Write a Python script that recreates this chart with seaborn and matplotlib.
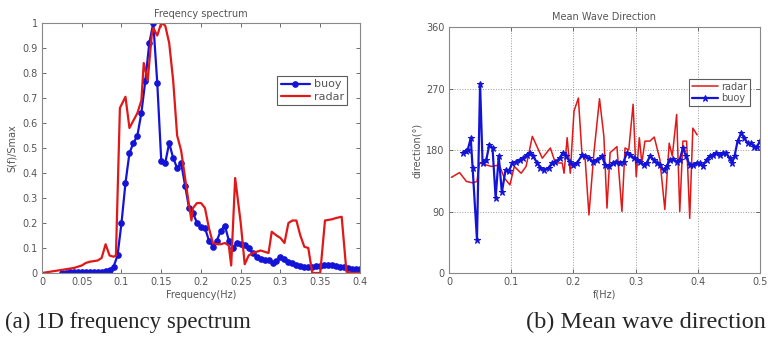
import numpy as np
import pandas as pd
import matplotlib
matplotlib.use('Agg')
import matplotlib.pyplot as plt
import seaborn as sns

# ---- data ----
# (a) normalised frequency spectrum
buoy_f = [0.025, 0.03, 0.035, 0.04, 0.045, 0.05, 0.055, 0.06, 0.065, 0.07, 0.075, 0.08,
          0.085, 0.09, 0.095, 0.1, 0.105, 0.11, 0.115, 0.12, 0.125, 0.13, 0.135, 0.14,
          0.145, 0.15, 0.155, 0.16, 0.165, 0.17, 0.175, 0.18, 0.185, 0.19, 0.195, 0.2,
          0.205, 0.21, 0.215, 0.22, 0.225, 0.23, 0.235, 0.24, 0.245, 0.25, 0.255, 0.26,
          0.265, 0.27, 0.275, 0.28, 0.285, 0.29, 0.295, 0.3, 0.305, 0.31, 0.315, 0.32,
          0.325, 0.33, 0.335, 0.34, 0.345, 0.35, 0.355, 0.36, 0.365, 0.37, 0.375, 0.38,
          0.385, 0.39, 0.395, 0.4]
buoy_s = [0.0, 0.0, 0.003, 0.003, 0.005, 0.003, 0.003, 0.005, 0.003, 0.005, 0.005, 0.007,
          0.01, 0.025, 0.07, 0.2, 0.36, 0.48, 0.52, 0.55, 0.64, 0.77, 0.92, 1.0,
          0.76, 0.45, 0.44, 0.52, 0.46, 0.42, 0.44, 0.35, 0.26, 0.24, 0.2, 0.185,
          0.18, 0.13, 0.105, 0.13, 0.17, 0.19, 0.13, 0.1, 0.12, 0.115, 0.11, 0.1,
          0.08, 0.065, 0.055, 0.05, 0.05, 0.04, 0.048, 0.065, 0.055, 0.045, 0.038, 0.03,
          0.028, 0.025, 0.025, 0.025, 0.028, 0.028, 0.03, 0.033, 0.03, 0.028, 0.025, 0.022,
          0.018, 0.015, 0.015, 0.015]

radar_f = [0.0, 0.01, 0.02, 0.03, 0.04, 0.05, 0.055, 0.06, 0.07, 0.075, 0.08, 0.085,
           0.09, 0.093, 0.098, 0.105, 0.11, 0.12, 0.125, 0.128, 0.133, 0.138, 0.14,
           0.145, 0.15, 0.155, 0.16, 0.165, 0.17, 0.175, 0.18, 0.185, 0.188, 0.19,
           0.195, 0.2, 0.205, 0.21, 0.215, 0.22, 0.225, 0.23, 0.235, 0.238, 0.243,
           0.25, 0.255, 0.26, 0.265, 0.27, 0.275, 0.28, 0.285, 0.289, 0.295, 0.3,
           0.305, 0.31, 0.315, 0.32, 0.325, 0.33, 0.335, 0.34, 0.345, 0.35, 0.356,
           0.365, 0.37, 0.377, 0.383, 0.39, 0.4]
radar_s = [0.0, 0.005, 0.01, 0.015, 0.02, 0.03, 0.04, 0.045, 0.05, 0.06, 0.115, 0.07,
           0.065, 0.07, 0.66, 0.705, 0.58, 0.64, 0.69, 0.84, 0.77, 0.95, 0.98,
           0.95, 1.0, 0.99, 0.92, 0.77, 0.55, 0.49, 0.38, 0.27, 0.21, 0.26,
           0.28, 0.28, 0.26, 0.18, 0.12, 0.115, 0.115, 0.12, 0.11, 0.03, 0.38,
           0.2, 0.035, 0.07, 0.08, 0.085, 0.09, 0.085, 0.08, 0.165, 0.15, 0.14,
           0.12, 0.2, 0.21, 0.21, 0.15, 0.105, 0.1, 0.0, 0.0, 0.0, 0.21,
           0.215, 0.22, 0.225, 0.005, 0.0, 0.0]

# (b) mean wave direction
dir_radar_f = [0.004, 0.017, 0.028, 0.038, 0.045, 0.049, 0.068, 0.081, 0.089, 0.098,
               0.105, 0.116, 0.124, 0.134, 0.15, 0.163, 0.171, 0.182, 0.185, 0.19,
               0.195, 0.201, 0.208, 0.214, 0.219, 0.225, 0.233, 0.242, 0.249, 0.254,
               0.259, 0.27, 0.278, 0.283, 0.289, 0.296, 0.301, 0.306, 0.31, 0.315,
               0.323, 0.33, 0.339, 0.347, 0.354, 0.359, 0.366, 0.371, 0.376, 0.382,
               0.387, 0.392, 0.399]
dir_radar = [140, 147, 134, 132, 134, 161, 156, 158, 139, 129,
             156, 146, 156, 200, 168, 183, 161, 161, 146, 198,
             146, 237, 256, 171, 166, 85, 176, 255, 200, 95,
             176, 185, 90, 183, 180, 247, 141, 198, 161, 193,
             193, 199, 166, 93, 190, 171, 232, 90, 193, 193,
             80, 212, 202]

dir_buoy_f = [0.022, 0.027, 0.03, 0.035, 0.038, 0.045, 0.05, 0.054, 0.06, 0.065, 0.07,
              0.075, 0.08, 0.085, 0.091, 0.096, 0.102, 0.108, 0.114, 0.119, 0.125,
              0.13, 0.135, 0.142, 0.147, 0.153, 0.16, 0.166, 0.171, 0.178, 0.183,
              0.188, 0.194, 0.2, 0.206, 0.214, 0.219, 0.225, 0.231, 0.238, 0.246,
              0.251, 0.258, 0.263, 0.268, 0.275, 0.281, 0.286, 0.291, 0.297, 0.302,
              0.307, 0.313, 0.318, 0.323, 0.329, 0.334, 0.339, 0.345, 0.35, 0.355,
              0.36, 0.366, 0.371, 0.376, 0.381, 0.387, 0.392, 0.398, 0.403, 0.408,
              0.414, 0.419, 0.424, 0.43, 0.435, 0.44, 0.445, 0.451, 0.455, 0.459,
              0.464, 0.47, 0.475, 0.48, 0.486, 0.491, 0.495, 0.5]
dir_buoy = [176, 178, 180, 197, 154, 49, 277, 161, 166, 188, 183,
            110, 171, 118, 151, 149, 161, 163, 166, 168, 173,
            176, 171, 161, 154, 151, 154, 161, 163, 168, 176,
            171, 163, 158, 161, 173, 171, 168, 163, 166, 171,
            158, 156, 161, 163, 161, 163, 176, 173, 168, 166,
            163, 158, 161, 171, 166, 161, 158, 151, 156, 166,
            167, 163, 166, 183, 171, 158, 158, 161, 161, 156,
            166, 171, 173, 176, 173, 176, 176, 168, 161, 171,
            193, 205, 197, 190, 190, 185, 185, 193]

RED = '#e01818'
BLUE = '#1414d8'
GREY = '#555555'

sns.set_style('white')
plt.rcParams['font.family'] = ['DejaVu Sans']

fig = plt.figure(figsize=(7.68, 3.45), dpi=100)
ax1 = fig.add_axes([0.0547, 0.2087, 0.414, 0.7246])
ax2 = fig.add_axes([0.5846, 0.2087, 0.405, 0.713])

# --- (a) spectrum ---
df_b = pd.DataFrame({'f': buoy_f, 's': buoy_s})
df_r = pd.DataFrame({'f': radar_f, 's': radar_s})
sns.lineplot(data=df_b, x='f', y='s', ax=ax1, color=BLUE, lw=1.6, marker='o',
             markersize=4, markeredgecolor=BLUE, label='buoy', sort=False)
sns.lineplot(data=df_r, x='f', y='s', ax=ax1, color=RED, lw=1.6, label='radar', sort=False)
ax1.set_xlim(0, 0.4)
ax1.set_ylim(0, 1)
ax1.set_xticks(np.arange(0, 0.401, 0.05))
ax1.set_xticklabels(['0', '0.05', '0.1', '0.15', '0.2', '0.25', '0.3', '0.35', '0.4'])
ax1.set_yticks(np.arange(0, 1.01, 0.1))
ax1.set_yticklabels(['0', '0.1', '0.2', '0.3', '0.4', '0.5', '0.6', '0.7', '0.8', '0.9', '1'])
ax1.set_title('Freqency spectrum', fontsize=7, color=GREY, pad=4)
ax1.set_xlabel('Frequency(Hz)', fontsize=7, color=GREY, labelpad=2)
ax1.set_ylabel('S(f)/Smax', fontsize=7, color=GREY, labelpad=4)
leg1 = ax1.legend(loc='upper right', bbox_to_anchor=(0.978, 0.81), fontsize=8,
                  frameon=True, fancybox=False, handlelength=2.6, borderpad=0.3,
                  labelspacing=0.2, handletextpad=0.4)
leg1.get_frame().set_edgecolor('#333333')
leg1.get_frame().set_linewidth(0.8)

# --- (b) direction ---
df_dr = pd.DataFrame({'f': dir_radar_f, 'd': dir_radar})
df_db = pd.DataFrame({'f': dir_buoy_f, 'd': dir_buoy})
sns.lineplot(data=df_dr, x='f', y='d', ax=ax2, color=RED, lw=1.1, label='radar', sort=False)
sns.lineplot(data=df_db, x='f', y='d', ax=ax2, color=BLUE, lw=1.6, marker='*',
             markersize=5, markeredgecolor=BLUE, label='buoy', sort=False)
ax2.set_xlim(0, 0.5)
ax2.set_ylim(0, 360)
ax2.set_xticks(np.arange(0, 0.501, 0.1))
ax2.set_xticklabels(['0', '0.1', '0.2', '0.3', '0.4', '0.5'])
ax2.set_yticks([0, 90, 180, 270, 360])
ax2.grid(True, linestyle=':', color='#999999', lw=0.7)
ax2.set_title('Mean Wave Direction', fontsize=7, color=GREY, pad=5)
ax2.set_xlabel('f(Hz)', fontsize=7, color=GREY, labelpad=2)
ax2.set_ylabel('direction(°)', fontsize=7, color=GREY, labelpad=3)
leg2 = ax2.legend(loc='upper right', bbox_to_anchor=(0.985, 0.81), fontsize=7,
                  frameon=True, fancybox=False, handlelength=2.6, borderpad=0.3,
                  labelspacing=0.2, handletextpad=0.4)
leg2.get_frame().set_edgecolor('#333333')
leg2.get_frame().set_linewidth(0.8)
for t in leg1.get_texts() + leg2.get_texts():
    t.set_color(GREY)

for ax in (ax1, ax2):
    ax.tick_params(direction='in', length=3, width=0.6, labelsize=7,
                   colors=GREY, top=True, right=True, bottom=True, left=True, pad=3)
    for sp in ax.spines.values():
        sp.set_color('#888888')
        sp.set_linewidth(0.8)

# captions
fig.text(0.006, 0.065, '(a) 1D frequency spectrum', ha='left', va='center',
         fontsize=16.5, family='Liberation Serif')
fig.text(0.997, 0.065, '(b) Mean wave direction', ha='right', va='center',
         fontsize=17.5, family='Liberation Serif')

fig.savefig('out.png', dpi=100)
